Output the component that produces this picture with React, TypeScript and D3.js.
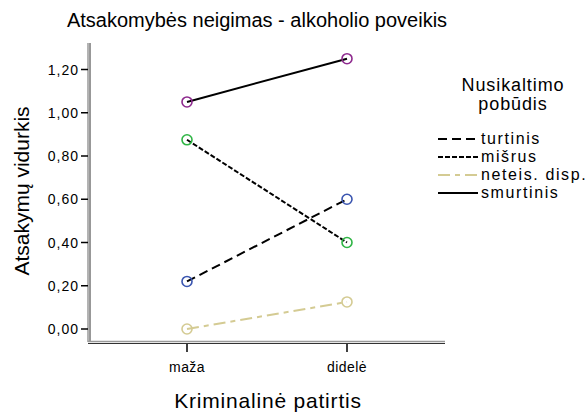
import React from "react";
import * as d3 from "d3";

const categories = ["maža", "didelė"];
const seriesNames = ["turtinis", "mišrus", "neteis. disp.", "smurtinis"];
const turtinis = [0.22, 0.6];
const misrus = [0.875, 0.4];
const neteis = [0.0, 0.125];
const smurtinis = [1.05, 1.25];
const yTicks = [0, 0.2, 0.4, 0.6, 0.8, 1.0, 1.2];

const lineColors = ["#000000", "#000000", "#d4cb93", "#000000"];
const markerColors = ["#3a55b0", "#2fb545", "#d4cb93", "#8e2a8e"];
const dashes = ["9,5", "5,2", "12,5,5,5", "none"];

const FONT = "'Liberation Sans', Arial, sans-serif";

export default function App() {
  const W = 588, H = 414;
  const x0 = 89, x1 = 445, yTop = 43, yBot = 343;
  const x = d3.scalePoint<string>().domain(categories).range([x0, x1]).padding(0.6125);
  const y = d3.scaleLinear().domain([0, 1.2]).range([329, 69.5]);
  const data = [turtinis, misrus, neteis, smurtinis];
  const line = d3.line<number>().x((_, i) => x(categories[i]) as number).y((d) => y(d));
  const fmt = (v: number) => v.toFixed(2).replace(".", ",");

  return (
    <svg width={W} height={H} style={{ display: "block", position: "absolute", left: 0, top: 0 }} fontFamily={FONT}>
      <rect width={W} height={H} fill="#fff" />
      <text x={257} y={27} fontSize={20} textAnchor="middle" fill="#000">
        Atsakomybės neigimas - alkoholio poveikis
      </text>
      {/* frame */}
      <line x1={88} x2={88} y1={yTop} y2={yBot - 1} stroke="#9a9a9a" strokeWidth={1.5} />
      <line x1={90} x2={90} y1={yTop} y2={yBot - 1} stroke="#333" strokeWidth={1} />
      <line x1={88} x2={x1} y1={341.5} y2={341.5} stroke="#9a9a9a" strokeWidth={1.5} />
      <line x1={88} x2={x1} y1={343.5} y2={343.5} stroke="#333" strokeWidth={1} />
      {/* y ticks */}
      {yTicks.map((t) => (
        <g key={t}>
          <line x1={81} x2={88} y1={y(t)} y2={y(t)} stroke="#000" strokeWidth={1.5} />
          <text x={79} y={y(t) + 5} fontSize={14} textAnchor="end" letterSpacing={1} fill="#000">
            {fmt(t)}
          </text>
        </g>
      ))}
      {/* x ticks */}
      {categories.map((c) => (
        <g key={c}>
          <line x1={x(c)} x2={x(c)} y1={344} y2={352} stroke="#000" strokeWidth={1.5} />
          <text x={x(c)} y={372} fontSize={14} textAnchor="middle" letterSpacing={0.4} fill="#000">
            {c}
          </text>
        </g>
      ))}
      <text x={268} y={408} fontSize={21} textAnchor="middle" letterSpacing={0.8} fill="#000">
        Kriminalinė patirtis
      </text>
      <text transform={`translate(29,191) rotate(-90)`} fontSize={21} textAnchor="middle" fill="#000">
        Atsakymų vidurkis
      </text>
      {/* lines */}
      {data.map((d, i) => (
        <path key={i} d={line(d) as string} fill="none" stroke={lineColors[i]} strokeWidth={2}
          strokeDasharray={dashes[i]} />
      ))}
      {data.map((d, i) =>
        d.map((v, j) => (
          <circle key={`${i}-${j}`} cx={x(categories[j])} cy={y(v)} r={5} fill="none"
            stroke={markerColors[i]} strokeWidth={1.6} />
        ))
      )}
      {/* legend */}
      <text x={513} y={91} fontSize={18} textAnchor="middle" letterSpacing={0.9} fill="#000">Nusikaltimo</text>
      <text x={513} y={110} fontSize={18} textAnchor="middle" letterSpacing={0.9} fill="#000">pobūdis</text>
      {seriesNames.map((n, i) => {
        const ly = 139 + i * 18;
        return (
          <g key={n}>
            <line x1={438} x2={478} y1={ly} y2={ly} stroke={lineColors[i]} strokeWidth={2}
              strokeDasharray={dashes[i]} />
            <text x={481} y={ly + 5} fontSize={16} letterSpacing={1.6} fill="#000">{n}</text>
          </g>
        );
      })}
    </svg>
  );
}
